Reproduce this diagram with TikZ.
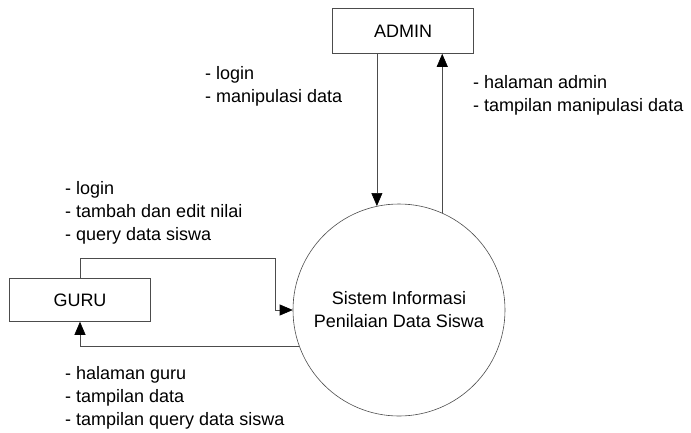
\documentclass[tikz,border=0pt]{standalone}
\usepackage{fontspec}
\setmainfont{Liberation Sans}
\usetikzlibrary{arrows.meta}
\begin{document}
\begin{tikzpicture}[x=1pt, y=-1pt, >={Triangle[length=13pt,width=11pt,color=black]},
  every node/.style={font=\fontsize{18}{23}\selectfont},
  line/.style={draw=black!70, line width=0.6pt}]
\useasboundingbox (0,0) rectangle (691,432);

\node[line, draw, minimum width=141pt, minimum height=45pt] (admin) at (403,31) {ADMIN};
\node[line, draw, minimum width=141pt, minimum height=43pt] (guru) at (80,300) {GURU};
\node[line, draw, circle, minimum size=212pt, inner sep=0pt, align=center] (proc) at (399,310) {Sistem Informasi\\Penilaian Data Siswa};

\node[anchor=west, align=left, inner sep=0pt] (lbla) at (205,86) {- login\\- manipulasi data};
\node[anchor=west, align=left, inner sep=0pt] (lblb) at (473,95) {- halaman admin\\- tampilan manipulasi data};
\node[anchor=west, align=left, inner sep=0pt] (lblc) at (65,213) {- login\\- tambah dan edit nilai\\- query data siswa};
\node[anchor=west, align=left, inner sep=0pt] (lbld) at (65,398) {- halaman guru\\- tampilan data\\- tampilan query data siswa};

\coordinate (gbend) at (275,258);

\draw[line, ->] (admin.south -| proc.102) -- (proc.102);
\draw[line, ->] (proc.66) -- (proc.66 |- admin.south);

\draw[line, ->] (guru.north) |- (gbend) |- (proc.west);
\draw[line, ->] (proc.200) -| (guru.south);
\end{tikzpicture}
\end{document}
